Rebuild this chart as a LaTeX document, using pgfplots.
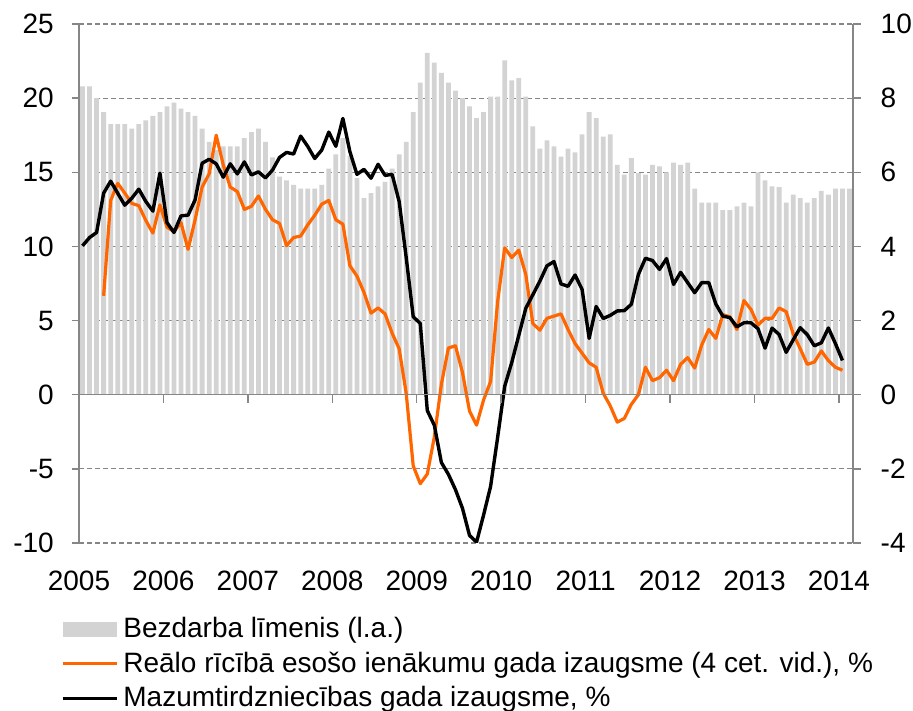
\documentclass[border=0pt]{standalone}
\usepackage{fontspec}
\setmainfont{Liberation Sans}
\usepackage{pgfplots}
\pgfplotsset{compat=1.18}
\definecolor{barGray}{RGB}{211,211,211}
\definecolor{axGray}{RGB}{134,134,134}
\definecolor{orangeL}{RGB}{255,102,0}
\newcommand{\bigf}{\fontsize{28}{33}\selectfont}
\begin{document}
\bigf
\begin{tikzpicture}
\useasboundingbox (0,0) rectangle (913pt,711pt);
\begin{axis}[
  at={(79pt,168pt)}, anchor=south west,
  width=774pt, height=519pt, scale only axis,
  xmin=0, xmax=110, ymin=-10, ymax=25,
  axis y line*=left, axis x line*=bottom,
  axis line style={-, draw=axGray, line width=1.5pt},
  x axis line style={draw=none},
  xtick=\empty,
  ytick={-10,-5,0,5,10,15,20,25},
  yticklabels={-10,-5,0,5,10,15,20,25},
  tick align=outside, major tick length=7pt,
  tick style={draw=axGray, line width=1.5pt},
  ymajorgrids,
  grid style={draw=axGray, line width=1.2pt, dash pattern=on 5pt off 3pt},
  tick label style={font=\bigf},
  yticklabel style={anchor=east, inner sep=0pt, xshift=-18pt},
  legend style={at={(-0.0233,-0.1426)}, anchor=north west, draw=none, fill=none,
    inner sep=0pt, font=\bigf, row sep=10pt,
    nodes={inner sep=0pt},
    column 2/.style={nodes={text height=20pt, text depth=0pt, inner sep=0pt}}},
  legend cell align=left,
]
\addplot[ybar, bar width=0.68, fill=barGray, draw=none,
  legend image code/.code={\fill[barGray] (0pt,-7.5pt) rectangle (54pt,7.5pt); \path (59pt,0pt);}]
table {
x y
0.5 20.8
1.5 20.8
2.5 20.0
3.5 19.05
4.5 18.25
5.5 18.25
6.5 18.25
7.5 17.95
8.5 18.25
9.5 18.5
10.5 18.8
11.5 19.05
12.5 19.45
13.5 19.7
14.5 19.3
15.5 19.05
16.5 18.8
17.5 17.95
18.5 17.05
19.5 16.5
20.5 16.75
21.5 16.75
22.5 16.75
23.5 17.3
24.5 17.7
25.5 17.95
26.5 17.05
27.5 16.0
28.5 14.7
29.5 14.45
30.5 14.15
31.5 13.9
32.5 13.9
33.5 13.9
34.5 14.15
35.5 15.25
36.5 16.2
37.5 17.3
38.5 16.1
39.5 14.6
40.5 13.25
41.5 13.6
42.5 14.05
43.5 14.35
44.5 15.25
45.5 16.2
46.5 17.05
47.5 19.05
48.5 21.05
49.5 23.05
50.5 22.4
51.5 21.7
52.5 21.05
53.5 20.5
54.5 20.0
55.5 19.45
56.5 18.65
57.5 19.05
58.5 20.1
59.5 20.1
60.5 22.55
61.5 21.2
62.5 21.35
63.5 20.1
64.5 18.1
65.5 16.6
66.5 17.15
67.5 16.75
68.5 16.05
69.5 16.6
70.5 16.35
71.5 17.55
72.5 19.05
73.5 18.65
74.5 17.4
75.5 17.55
76.5 15.5
77.5 14.85
78.5 15.95
79.5 14.95
80.5 14.85
81.5 15.5
82.5 15.4
83.5 15.0
84.5 15.65
85.5 15.5
86.5 15.65
87.5 13.9
88.5 12.95
89.5 12.95
90.5 12.95
91.5 12.45
92.5 12.45
93.5 12.7
94.5 12.95
95.5 12.7
96.5 15.0
97.5 14.45
98.5 14.05
99.5 14.0
100.5 12.95
101.5 13.5
102.5 13.25
103.5 12.95
104.5 13.25
105.5 13.75
106.5 13.5
107.5 13.9
108.5 13.9
109.5 13.9
};
\addlegendentry{Bezdarba līmenis (l.a.)}
\addplot[orangeL, line width=3.2pt, line join=round,
  legend image code/.code={\draw[line width=3pt] (0pt,0pt) -- (54pt,0pt); \path (59pt,0pt);}]
table {
x y
3.5 6.67
4.5 13.1
5.5 14.25
6.5 13.6
7.5 12.9
8.5 12.75
9.5 11.75
10.5 10.9
11.5 12.8
12.5 11.3
13.5 11.0
14.5 11.6
15.5 9.8
16.5 11.8
17.5 14.0
18.5 14.9
19.5 17.5
20.5 15.5
21.5 14.0
22.5 13.7
23.5 12.5
24.5 12.7
25.5 13.4
26.5 12.5
27.5 11.8
28.5 11.55
29.5 10.05
30.5 10.6
31.5 10.7
32.5 11.45
33.5 12.1
34.5 12.85
35.5 13.1
36.5 11.8
37.5 11.5
38.5 8.7
39.5 8.0
40.5 6.9
41.5 5.5
42.5 5.85
43.5 5.45
44.5 4.15
45.5 3.1
46.5 0.1
47.5 -4.8
48.5 -6.0
49.5 -5.35
50.5 -2.85
51.5 0.7
52.5 3.15
53.5 3.3
54.5 1.5
55.5 -1.1
56.5 -2.05
57.5 -0.35
58.5 0.9
59.5 6.3
60.5 9.9
61.5 9.25
62.5 9.75
63.5 8.1
64.5 4.8
65.5 4.35
66.5 5.15
67.5 5.3
68.5 5.45
69.5 4.4
70.5 3.45
71.5 2.8
72.5 2.15
73.5 1.85
74.5 0.1
75.5 -0.75
76.5 -1.85
77.5 -1.6
78.5 -0.65
79.5 0.0
80.5 1.85
81.5 0.95
82.5 1.15
83.5 1.65
84.5 0.95
85.5 2.05
86.5 2.5
87.5 1.8
88.5 3.35
89.5 4.4
90.5 3.8
91.5 5.4
92.5 5.25
93.5 4.4
94.5 6.35
95.5 5.75
96.5 4.7
97.5 5.15
98.5 5.15
99.5 5.85
100.5 5.6
101.5 4.1
102.5 3.1
103.5 2.05
104.5 2.2
105.5 2.95
106.5 2.3
107.5 1.85
108.5 1.65
};
\addlegendentry{Reālo rīcībā esošo ienākumu gada izaugsme (4 cet. vid.), \%}
\addplot[black, line width=3.4pt, line join=round,
  legend image code/.code={\draw[line width=3pt] (0pt,0pt) -- (54pt,0pt); \path (59pt,0pt);}]
table {
x y
0.5 10.04
1.5 10.6
2.5 10.94
3.5 13.59
4.5 14.4
5.5 13.59
6.5 12.78
7.5 13.25
8.5 13.86
9.5 13.03
10.5 12.38
11.5 14.94
12.5 11.61
13.5 10.94
14.5 12.06
15.5 12.11
16.5 13.14
17.5 15.61
18.5 15.88
19.5 15.57
20.5 14.67
21.5 15.57
22.5 14.89
23.5 15.7
24.5 14.82
25.5 15.03
26.5 14.62
27.5 15.15
28.5 16.0
29.5 16.34
30.5 16.23
31.5 17.44
32.5 16.75
33.5 15.93
34.5 16.5
35.5 17.71
36.5 16.75
37.5 18.63
38.5 16.39
39.5 14.86
40.5 15.2
41.5 14.6
42.5 15.54
43.5 14.79
44.5 14.86
45.5 13.03
46.5 9.26
47.5 5.26
48.5 4.8
49.5 -1.07
50.5 -2.06
51.5 -4.57
52.5 -5.37
53.5 -6.4
54.5 -7.66
55.5 -9.49
56.5 -9.94
57.5 -8.11
58.5 -6.17
59.5 -2.86
60.5 0.57
61.5 2.17
62.5 4.0
63.5 5.83
64.5 6.74
65.5 7.66
66.5 8.69
67.5 8.98
68.5 7.47
69.5 7.31
70.5 8.07
71.5 7.1
72.5 3.8
73.5 5.95
74.5 5.14
75.5 5.35
76.5 5.65
77.5 5.67
78.5 6.1
79.5 8.11
80.5 9.2
81.5 9.05
82.5 8.45
83.5 9.18
84.5 7.44
85.5 8.25
86.5 7.56
87.5 6.88
88.5 7.56
89.5 7.56
90.5 6.12
91.5 5.3
92.5 5.2
93.5 4.58
94.5 4.85
95.5 4.85
96.5 4.45
97.5 3.14
98.5 4.49
99.5 4.06
100.5 2.86
101.5 3.7
102.5 4.52
103.5 4.05
104.5 3.3
105.5 3.5
106.5 4.5
107.5 3.45
108.5 2.31
};
\addlegendentry{Mazumtirdzniecības gada izaugsme, \%}
\draw[axGray, line width=1.5pt] (axis cs:0,0) -- (axis cs:110,0);
\pgfplotsinvokeforeach{12,24,36,48,60,72,84,96,108}{
  \draw[axGray, line width=1.5pt] (axis cs:#1,0) -- ++(0pt,-8pt);
}
\end{axis}
\begin{axis}[
  at={(79pt,168pt)}, anchor=south west,
  width=774pt, height=519pt, scale only axis,
  xmin=0, xmax=110, ymin=-4, ymax=10,
  axis y line*=right, axis x line*=bottom,
  axis line style={-, draw=axGray, line width=1.5pt},
  x axis line style={draw=none},
  xtick={0,12,24,36,48,60,72,84,96,108},
  xticklabels={2005,2006,2007,2008,2009,2010,2011,2012,2013,2014},
  xtick style={draw=none},
  ytick={-4,-2,0,2,4,6,8,10},
  yticklabels={-4,-2,0,2,4,6,8,10},
  tick align=outside, major tick length=7.5pt,
  ytick style={draw=axGray, line width=1.5pt},
  tick label style={font=\bigf},
  yticklabel style={anchor=west, inner sep=0pt, xshift=20pt},
  xticklabel style={anchor=base, inner sep=0pt, yshift=-40.5pt},
]
\end{axis}
\end{tikzpicture}
\end{document}
